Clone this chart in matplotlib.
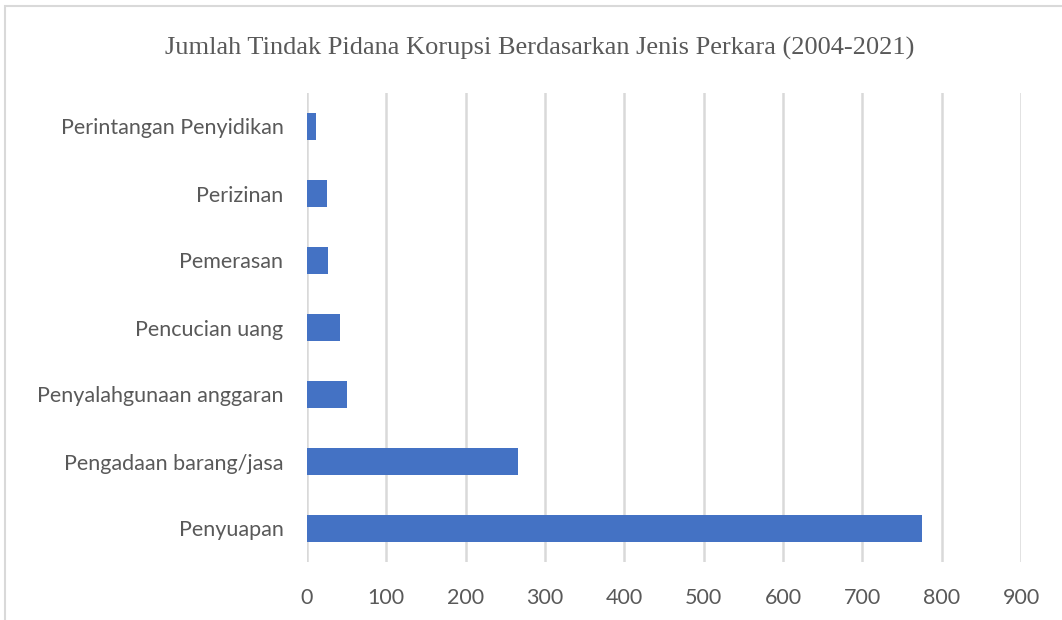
"""
Jumlah tindak pidana korupsi berdasarkan jenis perkara (2004-2021)
"""

import matplotlib
import matplotlib.pyplot as plt
from matplotlib.patches import Rectangle
matplotlib.use("AGG")

categories = ['Penyuapan', 'Pengadaan barang/jasa', 'Penyalahgunaan anggaran',
              'Pencucian uang', 'Pemerasan', 'Perizinan', 'Perintangan Penyidikan']
counts = [775, 266, 50, 41, 26, 25, 11]
xticks = [0, 100, 200, 300, 400, 500, 600, 700, 800, 900]

W, H = 1062, 620
fig = plt.figure(figsize=(W / 100, H / 100), dpi=100)
fig.patch.set_facecolor('white')

# chart frame (cut off at right/bottom like the screenshot)
fig.patches.append(Rectangle((5 / W, -0.1), 1.2, 1 - 6 / H + 0.1, transform=fig.transFigure,
                             fill=False, edgecolor='#d9d9d9', linewidth=1.5))

ax = fig.add_axes([307 / W, 1 - 562 / H, (1021 - 307) / W, (562 - 93) / H])
ax.barh(range(len(categories)), counts, height=0.4, color='#4472c4', zorder=3)

ax.set_xlim(0, 900)
ax.set_ylim(-0.5, len(categories) - 0.5)
ax.set_xticks(xticks)
ax.set_yticks(range(len(categories)))
ax.set_yticklabels(categories)
ax.grid(axis='x', color='#d9d9d9', linewidth=1.8, zorder=0)
for s in ax.spines.values():
    s.set_visible(False)
ax.tick_params(length=0, labelsize=15.5, labelcolor='#595959')
ax.tick_params(axis='x', pad=19)
ax.tick_params(axis='y', pad=17)
for lbl in ax.get_xticklabels() + ax.get_yticklabels():
    lbl.set_family('Lato')

fig.text(540 / W, 1 - 48 / H, 'Jumlah Tindak Pidana Korupsi Berdasarkan Jenis Perkara (2004-2021)',
         ha='center', va='center', fontsize=19, family='Liberation Serif', color='#595959')

plt.savefig('out.png', dpi=100)
